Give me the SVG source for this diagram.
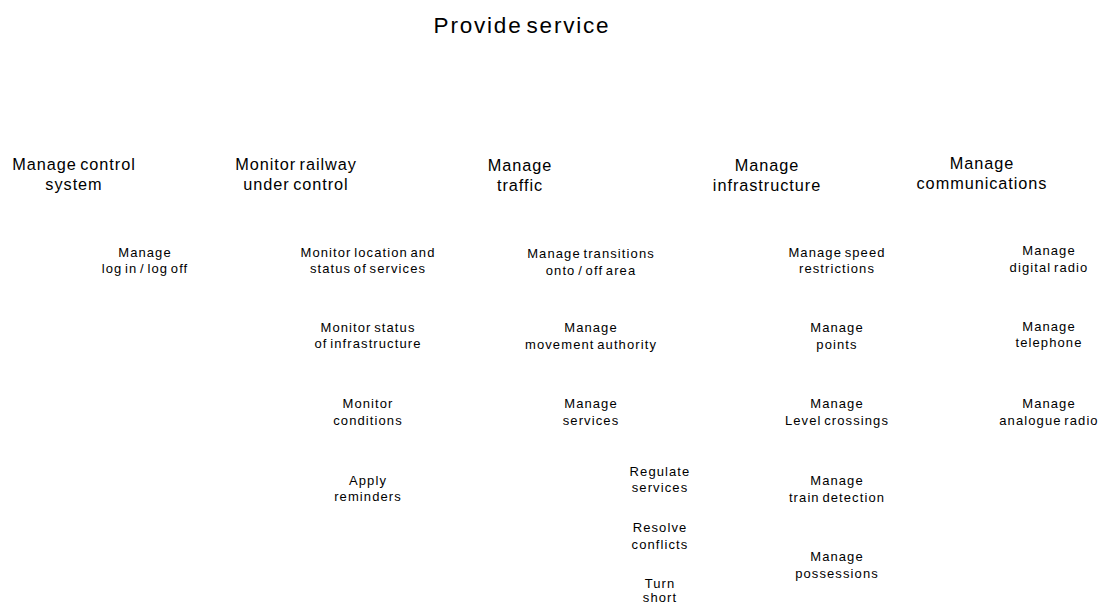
<svg xmlns="http://www.w3.org/2000/svg" width="1103" height="604" viewBox="0 0 1103 604">
  <style>
    text { font-family: "Liberation Sans", Arial, sans-serif; fill: #000; text-anchor: middle; }
    .root { font-size: 22.5px; letter-spacing: 1.8px; word-spacing: -4px; }
    .l1 { font-size: 16.3px; letter-spacing: 0.95px; word-spacing: -2px; }
    .l2 { font-size: 13px; letter-spacing: 1.1px; word-spacing: -2px; }
  </style>
  <rect width="1103" height="604" fill="#fff"/>

  <!-- Root function -->
  <g id="provide-service">
    <text class="root" x="522" y="33">Provide service</text>
  </g>

  <!-- First-level functions -->
  <g id="manage-control-system">
    <text class="l1" x="74" y="170">Manage control</text>
    <text class="l1" x="74" y="190">system</text>
  </g>
  <g id="monitor-railway">
    <text class="l1" x="296" y="170">Monitor railway</text>
    <text class="l1" x="296" y="190">under control</text>
  </g>
  <g id="manage-traffic">
    <text class="l1" x="520" y="171">Manage</text>
    <text class="l1" x="520" y="191">traffic</text>
  </g>
  <g id="manage-infrastructure">
    <text class="l1" x="767" y="171">Manage</text>
    <text class="l1" x="767" y="191">infrastructure</text>
  </g>
  <g id="manage-communications">
    <text class="l1" x="982" y="169">Manage</text>
    <text class="l1" x="982" y="189">communications</text>
  </g>

  <!-- Control system -->
  <g id="manage-login">
    <text class="l2" x="145" y="257">Manage</text>
    <text class="l2" x="145" y="273">log in / log off</text>
  </g>

  <!-- Monitoring -->
  <g id="monitor-location">
    <text class="l2" x="368" y="257">Monitor location and</text>
    <text class="l2" x="368" y="273">status of services</text>
  </g>
  <g id="monitor-infrastructure">
    <text class="l2" x="368" y="332">Monitor status</text>
    <text class="l2" x="368" y="348">of infrastructure</text>
  </g>
  <g id="monitor-conditions">
    <text class="l2" x="368" y="408">Monitor</text>
    <text class="l2" x="368" y="425">conditions</text>
  </g>
  <g id="apply-reminders">
    <text class="l2" x="368" y="485">Apply</text>
    <text class="l2" x="368" y="501">reminders</text>
  </g>

  <!-- Traffic -->
  <g id="manage-transitions">
    <text class="l2" x="591" y="258">Manage transitions</text>
    <text class="l2" x="591" y="275">onto / off area</text>
  </g>
  <g id="manage-movement-authority">
    <text class="l2" x="591" y="332">Manage</text>
    <text class="l2" x="591" y="349">movement authority</text>
  </g>
  <g id="manage-services">
    <text class="l2" x="591" y="408">Manage</text>
    <text class="l2" x="591" y="425">services</text>
  </g>
  <g id="regulate-services">
    <text class="l2" x="660" y="476">Regulate</text>
    <text class="l2" x="660" y="492">services</text>
  </g>
  <g id="resolve-conflicts">
    <text class="l2" x="660" y="532">Resolve</text>
    <text class="l2" x="660" y="549">conflicts</text>
  </g>
  <g id="turn-short">
    <text class="l2" x="660" y="588">Turn</text>
    <text class="l2" x="660" y="602">short</text>
  </g>

  <!-- Infrastructure -->
  <g id="manage-speed-restrictions">
    <text class="l2" x="837" y="257">Manage speed</text>
    <text class="l2" x="837" y="273">restrictions</text>
  </g>
  <g id="manage-points">
    <text class="l2" x="837" y="332">Manage</text>
    <text class="l2" x="837" y="349">points</text>
  </g>
  <g id="manage-level-crossings">
    <text class="l2" x="837" y="408">Manage</text>
    <text class="l2" x="837" y="425">Level crossings</text>
  </g>
  <g id="manage-train-detection">
    <text class="l2" x="837" y="485">Manage</text>
    <text class="l2" x="837" y="502">train detection</text>
  </g>
  <g id="manage-possessions">
    <text class="l2" x="837" y="561">Manage</text>
    <text class="l2" x="837" y="578">possessions</text>
  </g>

  <!-- Communications -->
  <g id="manage-digital-radio">
    <text class="l2" x="1049" y="255">Manage</text>
    <text class="l2" x="1049" y="272">digital radio</text>
  </g>
  <g id="manage-telephone">
    <text class="l2" x="1049" y="331">Manage</text>
    <text class="l2" x="1049" y="347">telephone</text>
  </g>
  <g id="manage-analogue-radio">
    <text class="l2" x="1049" y="408">Manage</text>
    <text class="l2" x="1049" y="425">analogue radio</text>
  </g>
</svg>
